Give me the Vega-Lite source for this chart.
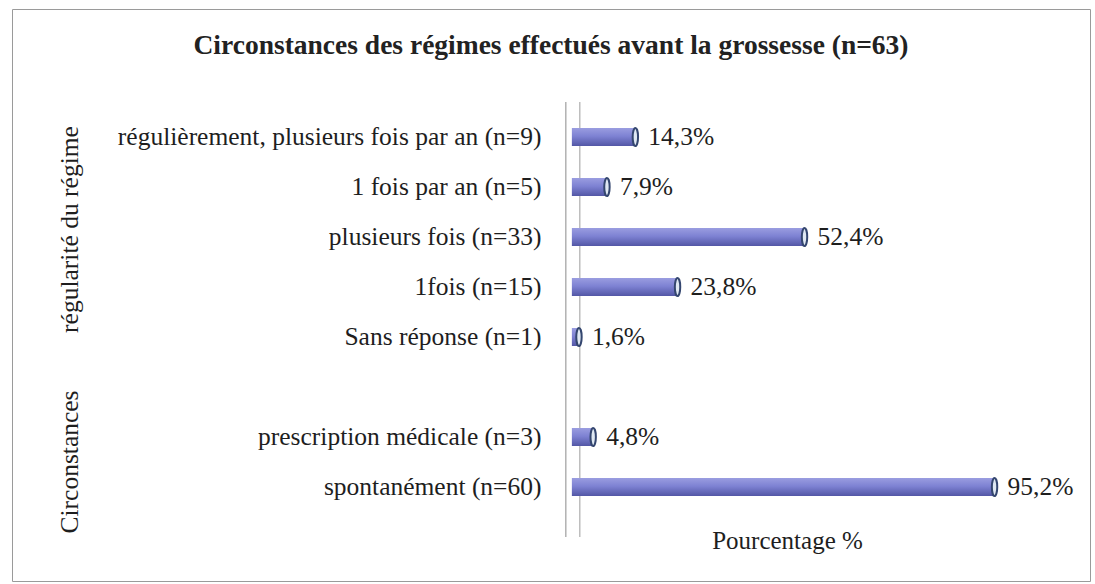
{
  "$schema": "https://vega.github.io/schema/vega-lite/v6.json",
  "width": 1078,
  "height": 572,
  "autosize": "none",
  "padding": {"left": 12, "top": 9, "right": 5, "bottom": 3},
  "background": "white",
  "config": {
    "view": {"stroke": "#9a9a9a", "strokeWidth": 1},
    "font": "Liberation Serif"
  },
  "title": {
    "text": "Circonstances des régimes effectués avant la grossesse (n=63)",
    "font": "Liberation Serif",
    "fontSize": 27.5,
    "fontWeight": "bold",
    "color": "#222222",
    "anchor": "middle",
    "baseline": "middle",
    "offset": -64
  },
  "data": {
    "values": [
      {"categorie": "régulièrement, plusieurs fois par an (n=9)", "groupe": "régularité du régime", "pourcentage": 14.3, "etiquette": "14,3%"},
      {"categorie": "1 fois par an (n=5)", "groupe": "régularité du régime", "pourcentage": 7.9, "etiquette": "7,9%"},
      {"categorie": "plusieurs fois (n=33)", "groupe": "régularité du régime", "pourcentage": 52.4, "etiquette": "52,4%"},
      {"categorie": "1fois (n=15)", "groupe": "régularité du régime", "pourcentage": 23.8, "etiquette": "23,8%"},
      {"categorie": "Sans réponse (n=1)", "groupe": "régularité du régime", "pourcentage": 1.6, "etiquette": "1,6%"},
      {"categorie": "prescription médicale (n=3)", "groupe": "Circonstances", "pourcentage": 4.8, "etiquette": "4,8%"},
      {"categorie": "spontanément (n=60)", "groupe": "Circonstances", "pourcentage": 95.2, "etiquette": "95,2%"}
    ]
  },
  "encoding": {
    "y": {
      "field": "categorie",
      "type": "nominal",
      "sort": null,
      "scale": {
        "domain": [
          "   ",
          "régulièrement, plusieurs fois par an (n=9)",
          "1 fois par an (n=5)",
          "plusieurs fois (n=33)",
          "1fois (n=15)",
          "Sans réponse (n=1)",
          " ",
          "prescription médicale (n=3)",
          "spontanément (n=60)",
          "  "
        ],
        "range": [53, 553],
        "paddingInner": 0,
        "paddingOuter": 0
      },
      "axis": {
        "orient": "left",
        "offset": -560,
        "domain": false,
        "ticks": false,
        "grid": false,
        "title": null,
        "labelPadding": 31,
        "labelLimit": 700,
        "labelFont": "Liberation Serif",
        "labelFontSize": 25.5,
        "labelColor": "#1e1e1e"
      }
    }
  },
  "layer": [
    {
      "data": {"values": [{}]},
      "mark": {"type": "rule", "color": "#8a8a8a", "strokeWidth": 1},
      "encoding": {
        "x": {"datum": -1.35, "type": "quantitative"},
        "y": {"datum": "   ", "bandPosition": 0.8},
        "y2": {"datum": "  "}
      }
    },
    {
      "data": {"values": [{}]},
      "mark": {"type": "rule", "color": "#9c9c9c", "strokeWidth": 1},
      "encoding": {
        "x": {"datum": 1.8, "type": "quantitative"},
        "y": {"datum": "   ", "bandPosition": 0.8},
        "y2": {"datum": "  "}
      }
    },
    {
      "mark": {
        "type": "bar",
        "size": 18,
        "color": {
          "gradient": "linear",
          "x1": 0, "y1": 0, "x2": 0, "y2": 1,
          "stops": [
            {"offset": 0, "color": "#9a9de0"},
            {"offset": 0.45, "color": "#7e82d3"},
            {"offset": 1, "color": "#5357a6"}
          ]
        }
      },
      "encoding": {
        "x": {
          "field": "pourcentage",
          "type": "quantitative",
          "scale": {"domain": [-126.1, 116.7], "nice": false, "zero": false},
          "axis": {
            "orient": "bottom",
            "labels": false,
            "ticks": false,
            "domain": false,
            "grid": false,
            "title": "Pourcentage %",
            "titleFont": "Liberation Serif",
            "titleFontSize": 25,
            "titleFontWeight": "normal",
            "titleColor": "#1e1e1e",
            "titleX": 775,
            "titleY": -33,
            "titleAlign": "center",
            "titleBaseline": "alphabetic"
          }
        },
        "x2": {"datum": 0}
      }
    },
    {
      "mark": {
        "type": "point",
        "shape": "M0,-1A0.3,1,0,1,1,0,1A0.3,1,0,1,1,0,-1Z",
        "size": 324,
        "filled": true,
        "fill": "#dfe8f2",
        "stroke": "#34466f",
        "strokeWidth": 2,
        "opacity": 1
      },
      "encoding": {
        "x": {"field": "pourcentage", "type": "quantitative"}
      }
    },
    {
      "mark": {
        "type": "text",
        "align": "left",
        "baseline": "middle",
        "dx": 13,
        "font": "Liberation Serif",
        "fontSize": 25.5,
        "color": "#1e1e1e"
      },
      "encoding": {
        "x": {"field": "pourcentage", "type": "quantitative"},
        "text": {"field": "etiquette"}
      }
    },
    {
      "data": {"values": [{}]},
      "mark": {
        "type": "text",
        "angle": 270,
        "align": "center",
        "baseline": "middle",
        "font": "Liberation Serif",
        "fontSize": 25.5,
        "color": "#1e1e1e",
        "text": "régularité du régime"
      },
      "encoding": {
        "x": {"datum": -113, "type": "quantitative"},
        "y": {"datum": "plusieurs fois (n=33)", "bandPosition": 0.35}
      }
    },
    {
      "data": {"values": [{}]},
      "mark": {
        "type": "text",
        "angle": 270,
        "align": "center",
        "baseline": "middle",
        "font": "Liberation Serif",
        "fontSize": 25.5,
        "color": "#1e1e1e",
        "text": "Circonstances"
      },
      "encoding": {
        "x": {"datum": -113, "type": "quantitative"},
        "y": {"datum": "prescription médicale (n=3)", "bandPosition": 1}
      }
    }
  ]
}
